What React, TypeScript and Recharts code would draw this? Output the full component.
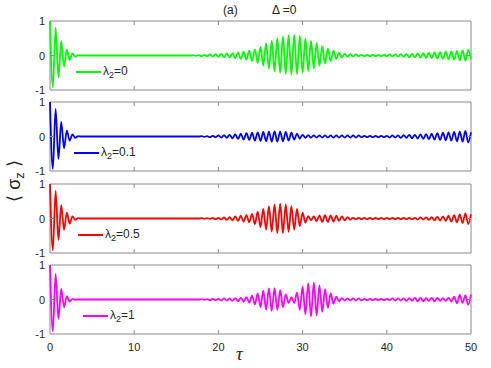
import React from 'react';
import { LineChart, Line, XAxis, YAxis, ReferenceArea, Legend } from 'recharts';

// <sigma_z>(tau), read as successive peaks/troughs, spaced half a Rabi period (1/3) apart, tau = 0..50
const sz0 = [
  1, -0.92, 0.81, -0.64, 0.42, -0.32, 0.17, -0.13, 0.06, -0.04, 0.01,
  0, 0, 0, 0, 0, 0, 0, 0, 0, 0,
  0, 0, 0, 0, 0, 0, 0, 0, 0, 0,
  0, 0, 0, 0, 0, 0, 0, 0, 0, 0,
  0, 0, 0, 0, 0, 0, 0, 0, 0, 0,
  0.01, -0.01, 0.01,
  -0.02, 0.02, -0.02,
  0.03, -0.03, 0.04,
  -0.04, 0.05, -0.05,
  0.06, -0.06, 0.07,
  -0.08, 0.09, -0.1,
  0.11, -0.12, 0.14,
  -0.16, 0.18, -0.21,
  0.25, -0.29, 0.35,
  -0.38, 0.43, -0.45,
  0.5, -0.5, 0.55,
  -0.53, 0.58, -0.55,
  0.6, -0.54, 0.57,
  -0.5, 0.5, -0.45,
  0.42, -0.38, 0.36,
  -0.3, 0.27, -0.23,
  0.2, -0.16, 0.14,
  -0.1, 0.08, -0.06,
  0.05, -0.04, 0.04,
  -0.03, 0.03, -0.02,
  0.02, -0.02, 0.02,
  -0.02, 0.02, -0.02,
  0.02, -0.02, 0.02,
  -0.02, 0.03, -0.03,
  0.03, -0.03, 0.04,
  -0.04, 0.04, -0.05,
  0.05, -0.05, 0.06,
  -0.06, 0.07, -0.07,
  0.08, -0.08, 0.09,
  -0.09, 0.1, -0.1,
  0.11, -0.11, 0.12,
  -0.12, 0.13, -0.14,
  0.15, -0.15, 0.16,
  -0.1,
];

const sz01 = [
  1, -0.94, 0.8, -0.65, 0.42, -0.34, 0.17, -0.12, 0.06, -0.04, 0.01,
  0, 0, 0, 0, 0, 0, 0, 0, 0, 0,
  0, 0, 0, 0, 0, 0, 0, 0, 0, 0,
  0, 0, 0, 0, 0, 0, 0, 0, 0, 0,
  0, 0, 0, 0, 0, 0, 0, 0, 0, 0,
  0, 0, 0,
  0.01, -0.01, 0.01,
  -0.02, 0.02, -0.02,
  0.03, -0.03, 0.04,
  -0.04, 0.05, -0.05,
  0.06, -0.07, 0.08,
  -0.09, 0.1, -0.1,
  0.11, -0.12, 0.12,
  -0.13, 0.13, -0.14,
  0.14, -0.15, 0.15,
  -0.15, 0.14, -0.14,
  0.13, -0.12, 0.11,
  -0.09, 0.08, -0.06,
  0.05, -0.04, 0.04,
  -0.03, 0.03, -0.03,
  0.03, -0.03, 0.03,
  -0.03, 0.03, -0.03,
  0.03, -0.03, 0.03,
  -0.03, 0.03, -0.03,
  0.03, -0.03, 0.03,
  -0.02, 0.02, -0.02,
  0.02, -0.02, 0.02,
  -0.02, 0.02, -0.02,
  0.02, -0.03, 0.03,
  -0.03, 0.03, -0.04,
  0.04, -0.04, 0.05,
  -0.05, 0.05, -0.06,
  0.06, -0.07, 0.07,
  -0.08, 0.08, -0.09,
  0.1, -0.1, 0.11,
  -0.11, 0.12, -0.12,
  0.13, -0.14, 0.14,
  -0.15, 0.16, -0.17,
  0.12,
];

const sz05 = [
  1, -0.92, 0.8, -0.62, 0.39, -0.33, 0.17, -0.15, 0.06, -0.04, 0.01,
  0, 0, 0, 0, 0, 0, 0, 0, 0, 0,
  0, 0, 0, 0, 0, 0, 0, 0, 0, 0,
  0, 0, 0, 0, 0, 0, 0, 0, 0, 0,
  0, 0, 0, 0, 0, 0, 0, 0, 0, 0,
  0, 0, 0,
  0.01, -0.01, 0.01,
  -0.01, 0.02, -0.02,
  0.02, -0.03, 0.03,
  -0.04, 0.04, -0.05,
  0.06, -0.07, 0.08,
  -0.09, 0.1, -0.11,
  0.13, -0.16, 0.2,
  -0.25, 0.28, -0.32,
  0.35, -0.38, 0.41,
  -0.42, 0.43, -0.42,
  0.41, -0.39, 0.36,
  -0.32, 0.28, -0.22,
  0.17, -0.12, 0.07,
  -0.05, 0.06, -0.08,
  0.09, -0.1, 0.1,
  -0.1, 0.09, -0.09,
  0.08, -0.07, 0.06,
  -0.05, 0.04, -0.03,
  0.02, -0.02, 0.02,
  -0.02, 0.02, -0.02,
  0.02, -0.02, 0.02,
  -0.02, 0.02, -0.02,
  0.02, -0.02, 0.02,
  -0.02, 0.02, -0.02,
  0.02, -0.02, 0.02,
  -0.02, 0.02, -0.03,
  0.03, -0.03, 0.03,
  -0.04, 0.04, -0.05,
  0.05, -0.06, 0.06,
  -0.07, 0.08, -0.09,
  0.1, -0.11, 0.12,
  -0.13, 0.15, -0.16,
  0.12,
];

const sz1 = [
  1, -0.92, 0.74, -0.56, 0.31, -0.22, 0.1, -0.06, 0.02, -0.01, 0,
  0, 0, 0, 0, 0, 0, 0, 0, 0, 0,
  0, 0, 0, 0, 0, 0, 0, 0, 0, 0,
  0, 0, 0, 0, 0, 0, 0, 0, 0, 0,
  0, 0, 0, 0, 0, 0, 0, 0, 0, 0,
  0, 0, 0,
  0.01, -0.01, 0.01,
  -0.02, 0.02, -0.02,
  0.02, -0.03, 0.03,
  -0.03, 0.03, -0.04,
  0.04, -0.05, 0.05,
  -0.06, 0.07, -0.09,
  0.11, -0.14, 0.18,
  -0.22, 0.26, -0.3,
  0.32, -0.33, 0.33,
  -0.3, 0.27, -0.22,
  0.15, -0.1, 0.07,
  -0.1, 0.2, -0.3,
  0.38, -0.43, 0.47,
  -0.49, 0.49, -0.46,
  0.41, -0.36, 0.3,
  -0.24, 0.18, -0.12,
  0.08, -0.05, 0.04,
  -0.03, 0.03, -0.03,
  0.03, -0.03, 0.03,
  -0.03, 0.02, -0.02,
  0.02, -0.02, 0.02,
  -0.02, 0.02, -0.02,
  0.02, -0.02, 0.03,
  -0.03, 0.03, -0.03,
  0.03, -0.04, 0.04,
  -0.04, 0.05, -0.05,
  0.05, -0.05, 0.04,
  -0.04, 0.05, -0.05,
  0.05, -0.04, 0.04,
  -0.04, 0.05, -0.06,
  0.08, -0.11, 0.13,
  -0.1, 0.12, -0.15,
  0.14,
];

const tauStep = 1 / 3;
const xTicks = [0, 10, 20, 30, 40, 50];
const yTicks = [-1, 0, 1];
const lambdaLabels = ['0', '0.1', '0.5', '1'];
const colors = ['#00ff00', '#0000ff', '#ff0000', '#ff00ff'];
const seriesList = [sz0, sz01, sz05, sz1];

const FONT = '"Liberation Sans", Arial, Helvetica, sans-serif';
const AXIS_GRAY = '#8a8a8a';
const TEXT = '#262626';
const PLOT_W = 421;
const PLOT_H = 69;
const panelTops = [21, 102, 184, 265];
const legendLeft = [76, 74, 78, 83];

function XTick(props: any) {
  const { x = 0, y = 0, payload, showLabel } = props;
  const v = payload?.value ?? 0;
  const inner = v > 0 && v < 50;
  return (
    <g>
      {inner && <line x1={x} y1={y} x2={x} y2={y - 4} stroke={AXIS_GRAY} />}
      {inner && <line x1={x} y1={y - PLOT_H} x2={x} y2={y - PLOT_H + 4} stroke={AXIS_GRAY} />}
      {showLabel && (
        <text x={x} y={y + 17} textAnchor="middle" fontSize={11} fontFamily={FONT} fill={TEXT}>
          {v}
        </text>
      )}
    </g>
  );
}

function YTick(props: any) {
  const { x = 0, y = 0, payload } = props;
  const v = payload?.value ?? 0;
  return (
    <g>
      {v === 0 && <line x1={x} y1={y} x2={x + 4} y2={y} stroke={AXIS_GRAY} />}
      {v === 0 && <line x1={x + PLOT_W} y1={y} x2={x + PLOT_W - 4} y2={y} stroke={AXIS_GRAY} />}
      <text x={x - 5} y={y + 4} textAnchor="end" fontSize={11} fontFamily={FONT} fill={TEXT}>
        {v}
      </text>
    </g>
  );
}

function LegendEntry({ color, label }: { color: string; label: string }) {
  return (
    <div style={{ display: 'flex', alignItems: 'center', fontFamily: FONT, fontSize: 12, color: TEXT, whiteSpace: 'nowrap' }}>
      <svg width={25} height={4}>
        <line x1={0} y1={2} x2={25} y2={2} stroke={color} strokeWidth={2} />
      </svg>
      <span style={{ marginLeft: 2 }}>
        λ<sub style={{ fontSize: 9 }}>2</sub>={label}
      </span>
    </div>
  );
}

function Panel({ idx }: { idx: number }) {
  const values = seriesList[idx];
  const data = values.map((v, i) => ({ tau: i * tauStep, sz: v }));
  const showX = idx === 3;
  const top = panelTops[idx];
  return (
    <div style={{ position: 'absolute', left: 0, top: top - 5 }}>
      <LineChart
        width={491}
        height={showX ? 97 : 79}
        data={data}
        margin={{ top: 5, right: 20, left: 0, bottom: 3 }}
      >
        <XAxis
          type="number"
          dataKey="tau"
          domain={[0, 50]}
          ticks={xTicks}
          interval={0}
          tickSize={0}
          tickMargin={0}
          axisLine={false}
          height={showX ? 20 : 2}
          tick={<XTick showLabel={showX} />}
        />
        <YAxis
          type="number"
          domain={[-1, 1]}
          ticks={yTicks}
          interval={0}
          width={50}
          tickSize={0}
          tickMargin={0}
          axisLine={false}
          tick={<YTick />}
        />
        <ReferenceArea x1={0} x2={50} y1={-1} y2={1} fill="none" stroke={AXIS_GRAY} strokeWidth={1} />
        <Legend
          layout="horizontal"
          verticalAlign="middle"
          align="center"
          wrapperStyle={{ left: legendLeft[idx], top: 48, width: 'auto', height: 16 }}
          content={() => <LegendEntry color={colors[idx]} label={lambdaLabels[idx]} />}
        />
        <Line
          type="monotone"
          dataKey="sz"
          stroke={colors[idx]}
          strokeWidth={1.8}
          dot={false}
          isAnimationActive={false}
        />
      </LineChart>
    </div>
  );
}

export default function App() {
  return (
    <div
      style={{
        position: 'absolute',
        left: 0,
        top: 0,
        width: 491,
        height: 368,
        background: '#fff',
        overflow: 'hidden',
        fontFamily: FONT,
        color: TEXT,
      }}
    >
      <div style={{ position: 'absolute', left: 223, top: 3, fontSize: 12 }}>(a)</div>
      <div style={{ position: 'absolute', left: 272, top: 3, fontSize: 12 }}>Δ =0</div>
      {[0, 1, 2, 3].map((i) => (
        <Panel key={i} idx={i} />
      ))}
      <div
        style={{
          position: 'absolute',
          left: 15,
          top: 181,
          transform: 'translate(-50%, -50%) rotate(-90deg)',
          fontSize: 18,
          whiteSpace: 'nowrap',
        }}
      >
        ⟨ σ<sub style={{ fontSize: 13 }}>z</sub> ⟩
      </div>
      <div
        style={{
          position: 'absolute',
          left: 236,
          top: 343,
          fontSize: 19,
          fontStyle: 'italic',
          fontFamily: '"Liberation Serif", "DejaVu Serif", serif',
        }}
      >
        τ
      </div>
    </div>
  );
}
